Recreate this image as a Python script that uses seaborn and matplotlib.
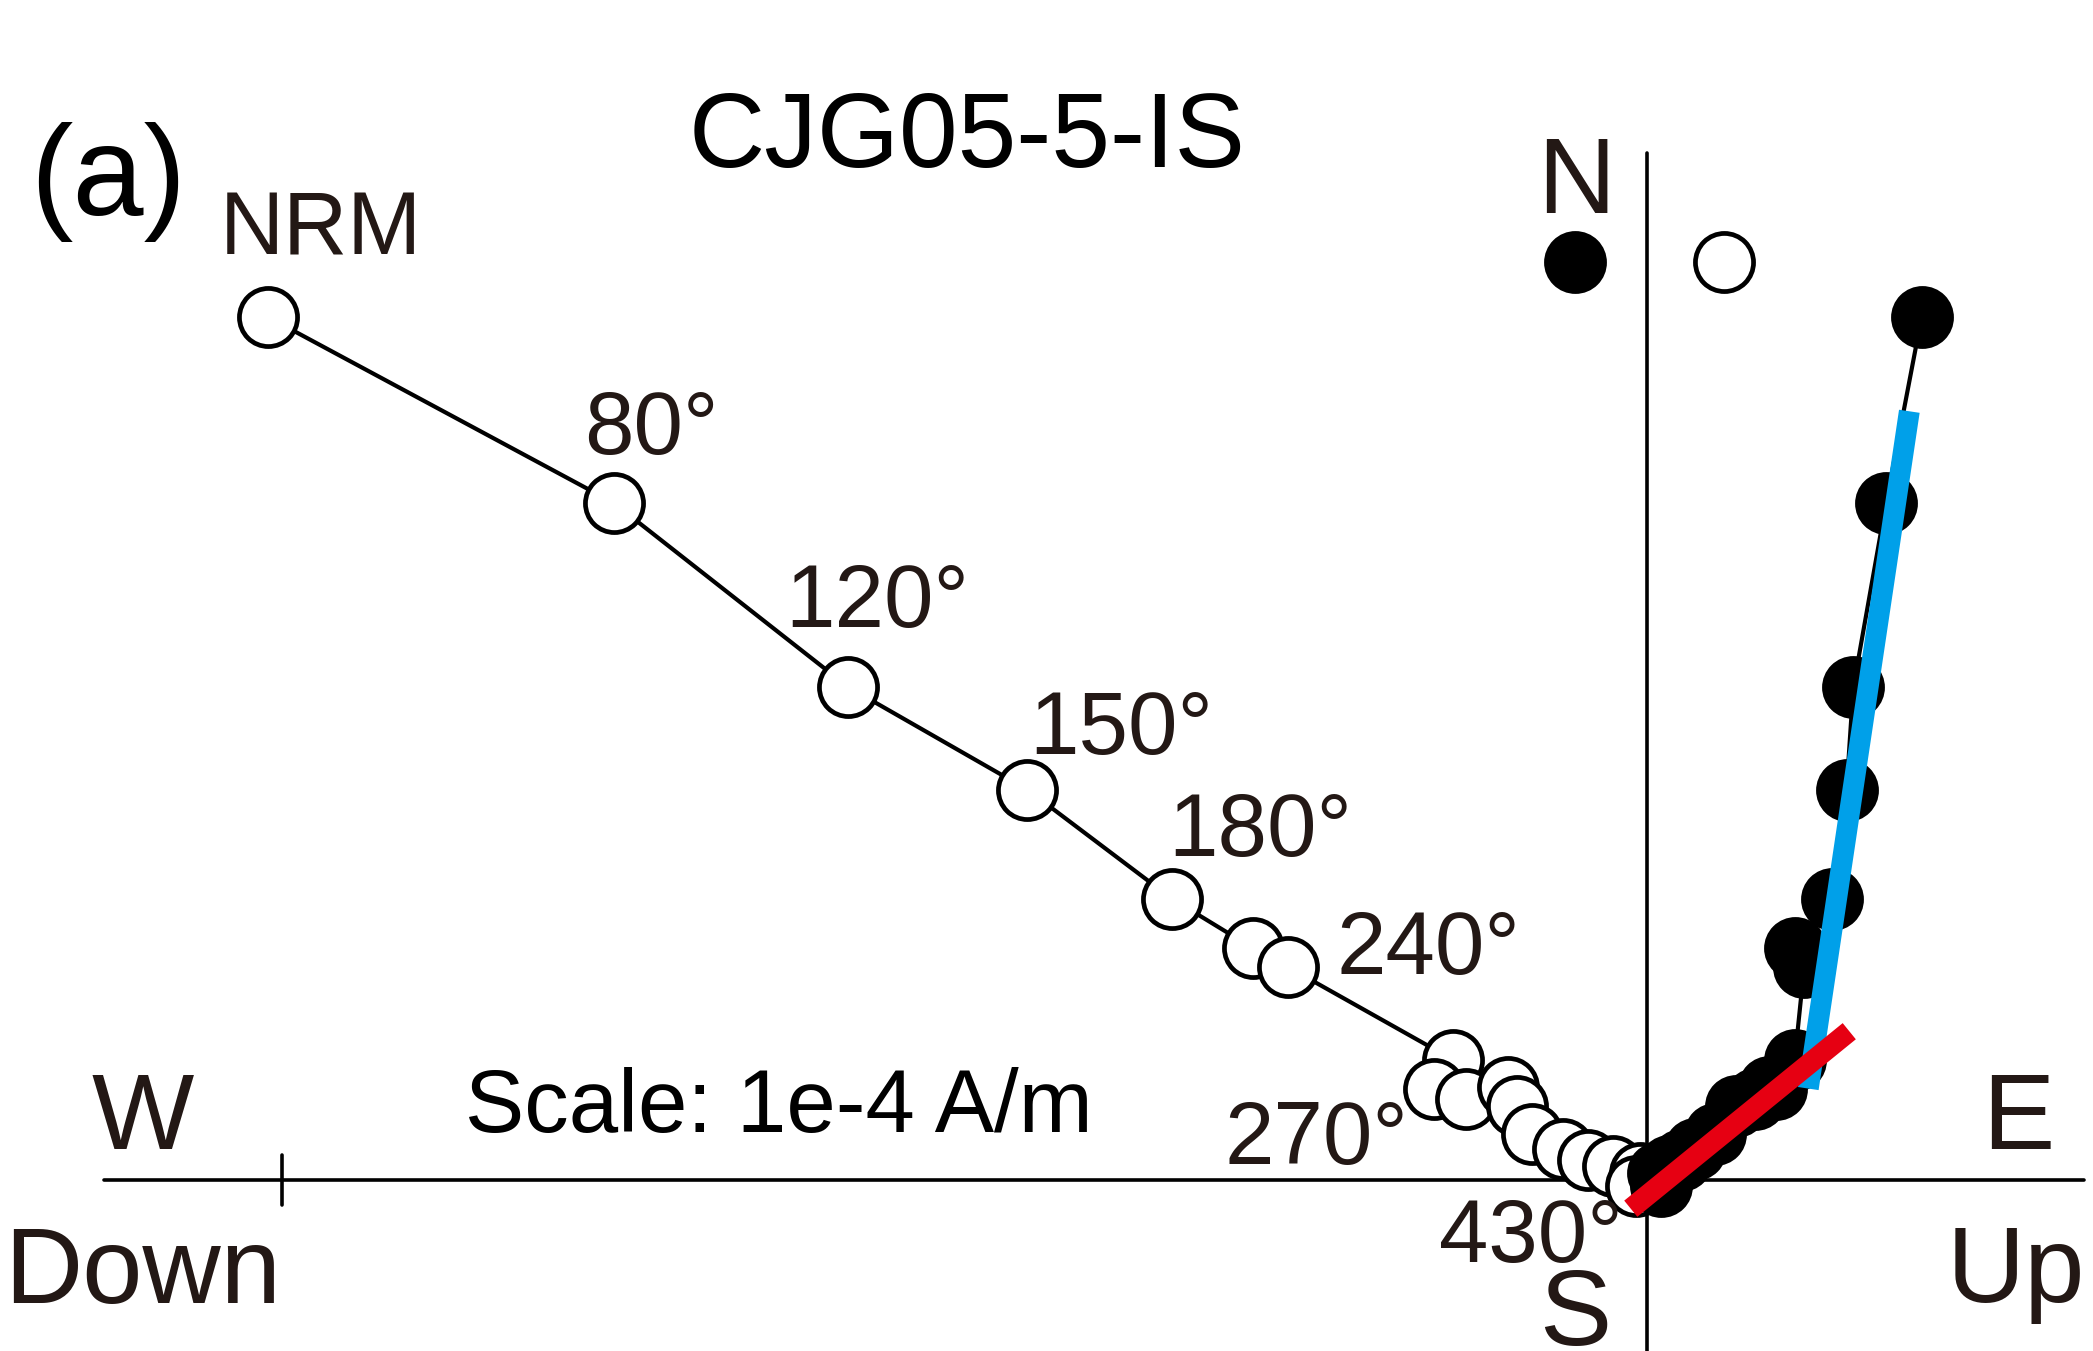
import matplotlib
matplotlib.use("Agg")
import matplotlib.pyplot as plt
import seaborn as sns
import numpy as np

sns.set_style("white")
plt.rcParams["font.family"] = ["Liberation Sans", "DejaVu Sans"]

# Demagnetisation steps, components in units of 1e-4 A/m
# Vertical projection (open circles): horizontal = Up(+)/Down(-), vertical = N
vert_x = [-1.010, -0.757, -0.585, -0.454, -0.348, -0.289, -0.263,
          -0.142, -0.156, -0.133, -0.102, -0.095, -0.084, -0.062,
          -0.043, -0.025, -0.005, -0.008]
north = [0.632, 0.496, 0.361, 0.286, 0.206, 0.170, 0.156,
         0.088, 0.067, 0.059, 0.068, 0.054, 0.034, 0.023,
         0.015, 0.010, 0.005, -0.004]
# Horizontal projection (filled circles): horizontal = E
east = [0.201, 0.175, 0.151, 0.146, 0.135, 0.108, 0.115,
        0.108, 0.094, 0.079, 0.089, 0.065, 0.050, 0.035,
        0.025, 0.016, 0.008, 0.010]

# Pair of reference symbols beside the N arm
ref_filled = (-0.053, 0.672)
ref_open = (0.056, 0.672)

# Principal component fits
blue_fit_x = [0.192, 0.118]
blue_fit_y = [0.563, 0.067]
red_fit_x = [0.148, -0.012]
red_fit_y = [0.109, -0.021]

# Annotated steps
step_labels = ["NRM", "80°", "120°", "150°", "180°", "240°", "270°", "430°"]

TXT = "#231815"
BLUE = "#00A0E9"
RED = "#E60012"

fig = plt.figure(figsize=(20.93, 13.51), dpi=100)
ax = fig.add_axes([0, 0, 1, 1])
ax.set_xlim(-1.2063, 0.3265)
ax.set_ylim(-0.1251, 0.8641)
ax.set_aspect("equal")
ax.axis("off")

# Axes cross and scale tick
ax.plot([-1.130, 0.320], [0, 0], color="black", lw=2.6, zorder=1)
ax.plot([0, 0], [0.752, -0.2], color="black", lw=2.6, zorder=1)
ax.plot([-1.0, -1.0], [0.018, -0.018], color="black", lw=2.6, zorder=1)

ms = 1750
mew = 3.4

# Vertical projection
sns.lineplot(x=vert_x, y=north, sort=False, estimator=None, color="black",
             linewidth=3.0, ax=ax, zorder=2)
sns.scatterplot(x=vert_x, y=north, s=ms, color="white", edgecolor="black",
                linewidth=mew, ax=ax, zorder=3)

# Horizontal projection
sns.lineplot(x=east, y=north, sort=False, estimator=None, color="black",
             linewidth=3.0, ax=ax, zorder=2)
sns.scatterplot(x=east, y=north, s=ms, color="black", edgecolor="black",
                linewidth=mew, ax=ax, zorder=3)

# Reference symbols
sns.scatterplot(x=[ref_filled[0]], y=[ref_filled[1]], s=ms, color="black",
                edgecolor="black", linewidth=mew, ax=ax, zorder=3)
sns.scatterplot(x=[ref_open[0]], y=[ref_open[1]], s=ms, color="white",
                edgecolor="black", linewidth=mew, ax=ax, zorder=3)

# Fitted directions
sns.lineplot(x=blue_fit_x, y=blue_fit_y, sort=False, estimator=None,
             color=BLUE, linewidth=15, solid_capstyle="butt", ax=ax, zorder=4)
sns.lineplot(x=red_fit_x, y=red_fit_y, sort=False, estimator=None,
             color=RED, linewidth=15, solid_capstyle="butt", ax=ax, zorder=5)

# Step annotations (centre x, baseline y)
label_pos = [(-0.971, 0.678), (-0.729, 0.532), (-0.564, 0.405), (-0.385, 0.312),
             (-0.283, 0.237), (-0.160, 0.151), (-0.242, 0.012), (-0.085, -0.060)]
for txt, (lx, ly) in zip(step_labels, label_pos):
    ax.text(lx, ly, txt, ha="center", va="baseline", fontsize=64, color=TXT, zorder=6)

# Title and panel letter
ax.text(-0.498, 0.742, "CJG05-5-IS", ha="center", va="baseline", fontsize=76,
        color="black", zorder=6)
ax.text(-1.127, 0.731, "(a)", ha="center", va="center", fontsize=92,
        color="black", zorder=6)

# Axis direction labels
for txt, (lx, ly) in [("N", (-0.052, 0.708)), ("S", (-0.053, -0.121)),
                      ("W", (-1.102, 0.023)), ("E", (0.272, 0.023)),
                      ("Down", (-1.102, -0.090)), ("Up", (0.270, -0.089))]:
    ax.text(lx, ly, txt, ha="center", va="baseline", fontsize=78, color=TXT, zorder=6)

ax.text(-0.636, 0.035, "Scale: 1e-4 A/m", ha="center", va="baseline",
        fontsize=64, color="black", zorder=6)

fig.savefig("out.png", dpi=100, facecolor="white")
